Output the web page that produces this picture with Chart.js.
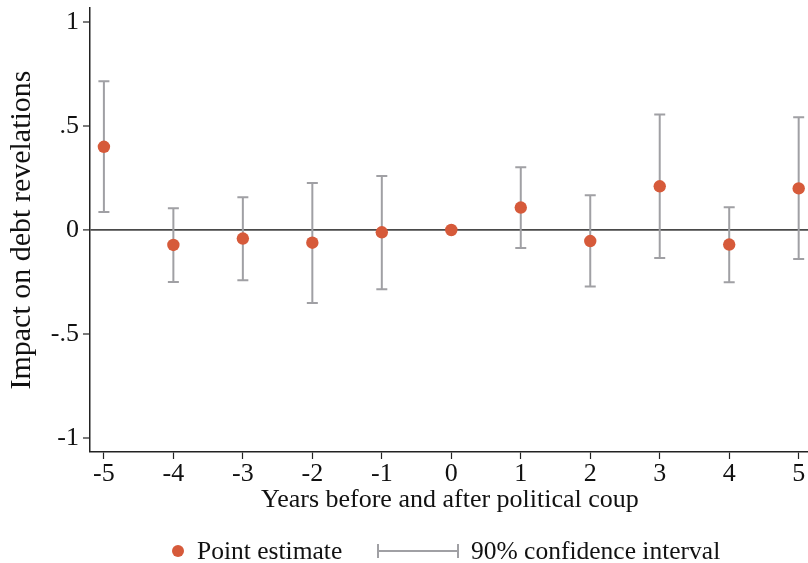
<!DOCTYPE html>
<html>
<head>
<meta charset="utf-8">
<script src="https://cdn.jsdelivr.net/npm/chart.js@4.4.1/dist/chart.umd.min.js"></script>
<style>
  body { margin: 0; background: #fff; overflow: hidden; }
  #wrap { position: relative; width: 808px; height: 563px; overflow: hidden; }
  #legend { position: absolute; left: 0; top: 535px; width: 808px; height: 28px;
            font-family: "Liberation Serif", "Times New Roman", serif; font-size: 25.5px; color: #111; }
  #legend .item { position: absolute; top: 0; display: flex; align-items: center; height: 32px; }
  #legend .dot { width: 12px; height: 12px; border-radius: 50%; background: #d65a3a; margin-right: 13px; }
</style>
</head>
<body>
<div id="wrap">
  <canvas id="c" width="816" height="563"></canvas>
  <div id="legend">
    <div class="item" style="left:172px"><span class="dot"></span><span>Point estimate</span></div>
    <div class="item" style="left:376px">
      <svg width="84" height="16" style="margin-right:11px"><line x1="2" y1="8" x2="82" y2="8" stroke="#a0a0a4" stroke-width="2"/><line x1="2" y1="1" x2="2" y2="15" stroke="#a0a0a4" stroke-width="2"/><line x1="82" y1="1" x2="82" y2="15" stroke="#a0a0a4" stroke-width="2"/></svg>
      <span>90% confidence interval</span>
    </div>
  </div>
</div>
<script>
// 연도별 추정치 (쿠데타 전후)
const years = [-5, -4, -3, -2, -1, 0, 1, 2, 3, 4, 5];
const estimates = [0.40, -0.072, -0.041, -0.061, -0.011, 0, 0.108, -0.053, 0.21, -0.07, 0.20];
const ciLow = [0.087, -0.25, -0.242, -0.351, -0.285, null, -0.086, -0.272, -0.135, -0.251, -0.139];
const ciHigh = [0.715, 0.104, 0.157, 0.226, 0.26, null, 0.301, 0.167, 0.555, 0.109, 0.542];
const yTicks = [-1, -0.5, 0, 0.5, 1];

const serif = '"Liberation Serif", "Times New Roman", serif';
Chart.defaults.font.family = serif;
Chart.defaults.color = '#111';

// 신뢰구간 그리기 (점 아래에)
const errorBars = {
  id: 'errorBars',
  beforeDatasetsDraw(chart) {
    const { ctx, scales: { x, y } } = chart;
    ctx.save();
    ctx.strokeStyle = '#a0a0a4';
    ctx.lineWidth = 2;
    years.forEach((yr, i) => {
      if (ciLow[i] === null) return;
      const px = x.getPixelForValue(yr);
      const lo = y.getPixelForValue(ciLow[i]);
      const hi = y.getPixelForValue(ciHigh[i]);
      ctx.beginPath();
      ctx.moveTo(px, lo); ctx.lineTo(px, hi);
      ctx.moveTo(px - 5.5, lo); ctx.lineTo(px + 5.5, lo);
      ctx.moveTo(px - 5.5, hi); ctx.lineTo(px + 5.5, hi);
      ctx.stroke();
    });
    ctx.restore();
  }
};

new Chart(document.getElementById('c'), {
  type: 'scatter',
  data: {
    datasets: [{
      label: 'Point estimate',
      data: years.map((yr, i) => ({ x: yr, y: estimates[i] })),
      backgroundColor: '#d65a3a',
      borderColor: '#d65a3a',
      borderWidth: 0,
      pointRadius: 6.2,
      pointHoverRadius: 6.2
    }]
  },
  options: {
    responsive: false,
    animation: false,
    layout: { padding: { top: 8, left: 4, right: 0, bottom: 45 } },
    plugins: { legend: { display: false }, tooltip: { enabled: false } },
    scales: {
      x: {
        type: 'linear',
        min: -5.2,
        max: 5.16,
        afterBuildTicks: s => { s.ticks = years.map(v => ({ value: v })); },
        afterFit: s => { s.height = 66; s.paddingLeft = 0; s.paddingRight = 0; },
        ticks: { font: { size: 26 }, padding: 0, color: '#111', callback: v => String(v) },
        grid: { drawOnChartArea: false, tickLength: 7, tickColor: '#222', tickWidth: 1.2 },
        border: { color: '#222', width: 1.5 },
        title: { display: true, text: 'Years before and after political coup', font: { size: 26 }, color: '#111', padding: { top: 0, bottom: 2 } }
      },
      y: {
        min: -1.067,
        max: 1.067,
        afterBuildTicks: s => { s.ticks = yTicks.map(v => ({ value: v })); },
        afterFit: s => { s.width = 86; s.paddingTop = 0; s.paddingBottom = 0; },
        ticks: {
          font: { size: 26 }, padding: 4, color: '#111',
          callback: v => v === 0 ? '0' : (v < 0 ? '-' : '') + String(Math.abs(v)).replace(/^0/, '')
        },
        grid: {
          color: c => c.tick && c.tick.value === 0 ? '#4a4a4a' : 'rgba(0,0,0,0)',
          lineWidth: c => c.tick && c.tick.value === 0 ? 1.8 : 0,
          tickLength: 7, tickColor: '#222', tickWidth: 1.2
        },
        border: { color: '#222', width: 1.5 },
        title: { display: true, text: 'Impact on debt revelations', font: { size: 30 }, color: '#111', padding: { top: 0, bottom: 2 } }
      }
    }
  },
  plugins: [errorBars]
});
</script>
</body>
</html>
